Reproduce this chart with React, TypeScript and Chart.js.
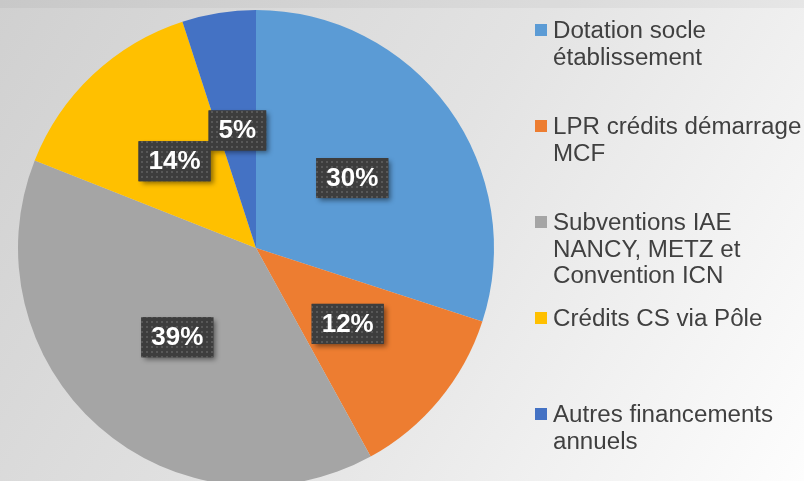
import React, { useEffect, useRef } from "react";
import { Chart, registerables } from "chart.js";

Chart.register(...registerables);

const categories = [
  "Dotation socle établissement",
  "LPR crédits démarrage MCF",
  "Subventions IAE NANCY, METZ et Convention ICN",
  "Crédits CS via Pôle",
  "Autres financements annuels",
];
const legendLines: string[][] = [
  ["Dotation socle", "établissement"],
  ["LPR crédits démarrage", "MCF"],
  ["Subventions IAE", "NANCY, METZ et", "Convention ICN"],
  ["Crédits CS via Pôle"],
  ["Autres financements", "annuels"],
];
const values = [30, 12, 39, 14, 5];
const colors = ["#5B9BD5", "#ED7D31", "#A5A5A5", "#FFC000", "#4472C4"];

const FONT = '"Liberation Sans", Arial, sans-serif';

function makePattern(ctx: CanvasRenderingContext2D) {
  const c = document.createElement("canvas");
  c.width = 5;
  c.height = 5;
  const p = c.getContext("2d")!;
  p.fillStyle = "#3d3d3d";
  p.fillRect(0, 0, 5, 5);
  p.fillStyle = "#585858";
  p.fillRect(1, 1, 2, 2);
  return ctx.createPattern(c, "repeat")!;
}

const bgPlugin = {
  id: "bg",
  beforeDraw(chart: any) {
    const { ctx, width, height } = chart;
    ctx.save();
    const g = ctx.createLinearGradient(0, 0, width, height);
    g.addColorStop(0, "#d0d0d0");
    g.addColorStop(0.5, "#e3e3e3");
    g.addColorStop(1, "#fdfdfd");
    ctx.fillStyle = g;
    ctx.fillRect(0, 0, width, height);
    ctx.fillStyle = "rgba(0,0,0,0.035)";
    ctx.fillRect(0, 0, width, 8);
    ctx.restore();
  },
};

const labelPlugin = {
  id: "boxLabels",
  afterDatasetsDraw(chart: any) {
    const { ctx } = chart;
    const meta = chart.getDatasetMeta(0);
    const data = chart.data.datasets[0].data as number[];
    const total = data.reduce((a, b) => a + b, 0);
    const pattern = makePattern(ctx);
    ctx.save();
    ctx.font = `bold 25px ${FONT}`;
    meta.data.forEach((arc: any, i: number) => {
      const { x, y } = arc.getCenterPoint();
      const text = Math.round((data[i] / total) * 100) + "%";
      const tw = ctx.measureText(text).width * 1.04;
      const w = tw + 20;
      const h = 40;
      const bx = x - w / 2;
      const by = y - h / 2;
      ctx.save();
      ctx.shadowColor = "rgba(0,0,0,0.45)";
      ctx.shadowBlur = 5;
      ctx.shadowOffsetX = 3;
      ctx.shadowOffsetY = 3;
      ctx.fillStyle = "#3d3d3d";
      ctx.fillRect(bx, by, w, h);
      ctx.restore();
      ctx.fillStyle = pattern;
      ctx.fillRect(bx, by, w, h);
      ctx.save();
      ctx.translate(x, y + 1);
      ctx.scale(1.04, 1);
      ctx.fillStyle = "#ffffff";
      ctx.textAlign = "center";
      ctx.textBaseline = "middle";
      ctx.fillText(text, 0, 0);
      ctx.restore();
    });
    ctx.restore();
  },
};

const legendPlugin = {
  id: "sideLegend",
  afterDraw(chart: any) {
    const { ctx } = chart;
    ctx.save();
    ctx.font = `23px ${FONT}`;
    ctx.textBaseline = "alphabetic";
    ctx.textAlign = "left";
    legendLines.forEach((lines, i) => {
      const base = 38 + i * 96;
      ctx.fillStyle = colors[i];
      ctx.fillRect(535, base - 14, 12, 12);
      ctx.fillStyle = "#404040";
      lines.forEach((ln, j) => {
        ctx.save();
        ctx.translate(553, base + j * 26.5);
        ctx.scale(1.05, 1);
        ctx.fillText(ln, 0, 0);
        ctx.restore();
      });
    });
    ctx.restore();
  },
};

export default function App() {
  const ref = useRef<HTMLCanvasElement>(null);
  useEffect(() => {
    const chart = new Chart(ref.current!, {
      type: "pie",
      data: {
        labels: categories,
        datasets: [
          {
            data: values,
            backgroundColor: colors,
            borderWidth: 0,
            radius: 238,
            clip: false,
          } as any,
        ],
      },
      options: {
        responsive: false,
        animation: false,
        layout: { padding: { left: 18, right: 310, top: 15, bottom: 0 } },
        plugins: {
          legend: { display: false },
          tooltip: { enabled: false },
        },
      },
      plugins: [bgPlugin, labelPlugin, legendPlugin],
    });
    return () => chart.destroy();
  }, []);
  return (
    <div style={{ position: "fixed", left: 0, top: 0, width: 804, height: 481 }}>
      <canvas ref={ref} width={804} height={481} style={{ display: "block" }} />
    </div>
  );
}
